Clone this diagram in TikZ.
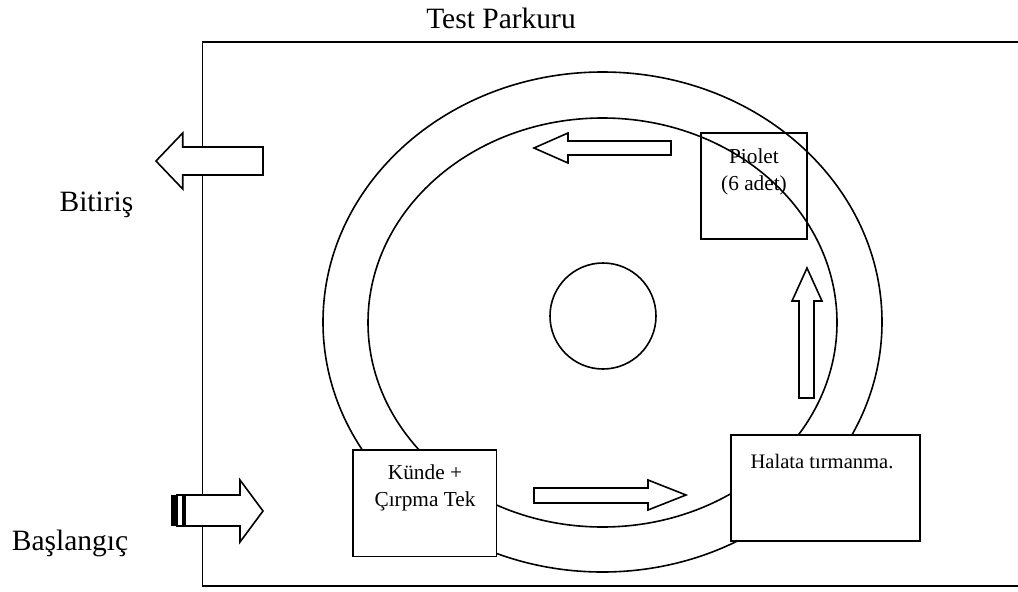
\documentclass[tikz,border=0pt]{standalone}
\usepackage{fontspec}
\setmainfont{Liberation Serif}
\tikzset{
  line/.style={draw=black,line width=1.6pt},
  blockarrow/.style={line,fill=white,line join=miter},
  lbl/.style={font=\fontsize{29.5}{34}\selectfont,align=center,inner sep=0pt},
  small/.style={font=\fontsize{21.3}{26.5}\selectfont,align=center,inner sep=0pt},
  smaller/.style={font=\fontsize{20.6}{26}\selectfont,inner sep=0pt}
}
\begin{document}
\begin{tikzpicture}[x=1pt,y=-1pt]
\useasboundingbox (0,0) rectangle (1018,592);
\fill[white] (0,0) rectangle (1018,592);
% frame
\draw[line] (1020,42) -- (202.5,42) -- (202.5,586) -- (1020,586);
% track
\draw[line] (602.5,322) ellipse [x radius=279.5,y radius=250];
\draw[line] (602.5,322.5) ellipse [x radius=234.5,y radius=204.5];
\draw[line] (603,316) circle [radius=53];
% stations
\draw[line,fill=white] (353,450) rectangle (496.5,556.5);
\draw[line,fill=white] (731,435) rectangle (920,541);
\draw[line] (701,133) rectangle (807,239);
% block arrows
\draw[blockarrow] (185,495) -- (240,495) -- (240,480) -- (263,511) -- (240,542) -- (240,526) -- (185,526) -- cycle;
\fill[black] (171,495) rectangle (175.5,526);
\draw[draw=black,line width=1.2pt,fill=white] (177,495) rectangle (183,526);
\draw[blockarrow] (263,147) -- (182.7,147) -- (182.7,133) -- (156,161) -- (182.7,189) -- (182.7,175) -- (263,175) -- cycle;
\draw[blockarrow] (671,141) -- (568,141) -- (568,133) -- (534,148) -- (568,163) -- (568,155) -- (671,155) -- cycle;
\draw[blockarrow] (799,398) -- (799,301) -- (792,301) -- (807,268) -- (822,301) -- (814,301) -- (814,398) -- cycle;
\draw[blockarrow] (534,488) -- (648,488) -- (648,480) -- (686,495) -- (648,510) -- (648,503) -- (534,503) -- cycle;
% labels
\node[lbl,anchor=base] (title) at (501,28) {Test Parkuru};
\node[lbl,anchor=base] (bitis) at (96.5,211) {Bitiriş};
\node[lbl,anchor=base] (basla) at (70,550) {Başlangıç};
\node[small] (kunde) at (425,488) {Künde +\\Çırpma Tek};
\node[smaller,anchor=base] (halata) at (822,468) {Halata tırmanma.};
\node[small] (piolet) at (754,172) {Piolet\\(6 adet)};
\end{tikzpicture}
\end{document}
